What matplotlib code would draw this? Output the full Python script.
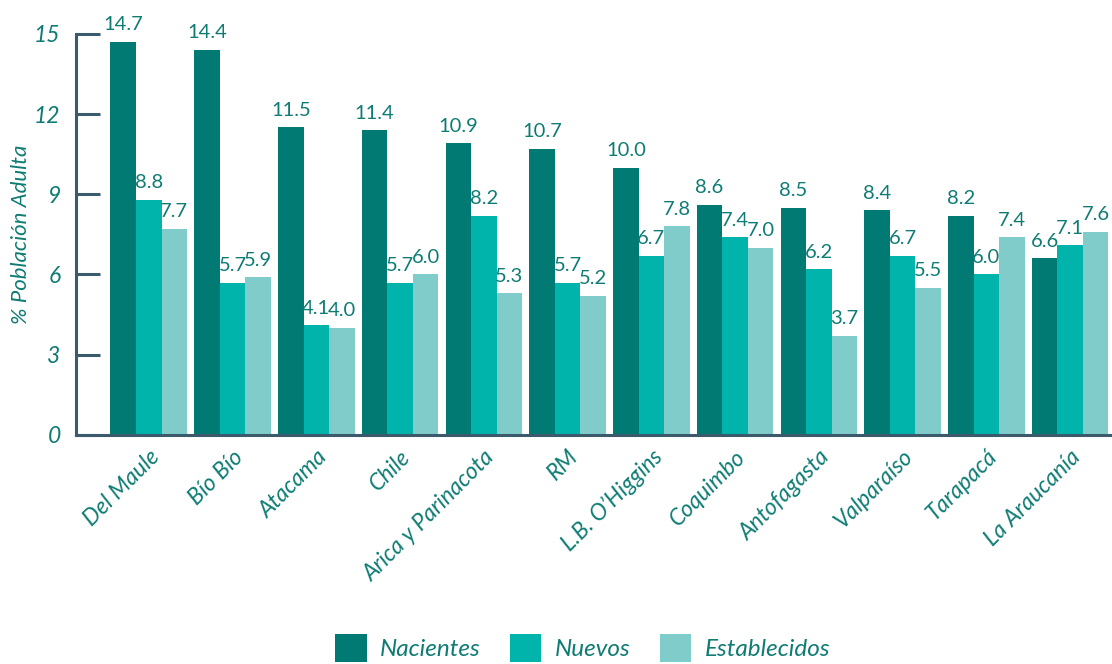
import numpy as np
import matplotlib.pyplot as plt

plt.rcParams['font.family'] = ['Lato', 'DejaVu Sans']

regiones = ['Del Maule', 'Bío Bío', 'Atacama', 'Chile', 'Arica y Parinacota', 'RM',
            'L.B. O’Higgins', 'Coquimbo', 'Antofagasta', 'Valparaíso', 'Tarapacá',
            'La Araucanía']
nacientes = [14.7, 14.4, 11.5, 11.4, 10.9, 10.7, 10.0, 8.6, 8.5, 8.4, 8.2, 6.6]
nuevos = [8.8, 5.7, 4.1, 5.7, 8.2, 5.7, 6.7, 7.4, 6.2, 6.7, 6.0, 7.1]
establecidos = [7.7, 5.9, 4.0, 6.0, 5.3, 5.2, 7.8, 7.0, 3.7, 5.5, 7.4, 7.6]
series = ['Nacientes', 'Nuevos', 'Establecidos']
colores = ['#007A72', '#00B3AB', '#7FCCCA']
texto = '#0F7C74'
eje = '#3B5A6B'

fig = plt.figure(figsize=(11.12, 6.64), dpi=100)
ax = fig.add_axes([0.0683, 0.345, 0.9317, 0.604])

x = np.arange(len(regiones))
w = 0.305
for i, (vals, nombre, c) in enumerate(zip([nacientes, nuevos, establecidos], series, colores)):
    pos = x + (i - 1) * w
    ax.bar(pos, vals, width=w, color=c, label=nombre)
    for p, v in zip(pos, vals):
        ax.text(p, v + 0.32, f'{v:.1f}', ha='center', va='bottom',
                fontsize=14.5, color=texto)

ax.set_xlim(-0.87, 11.5)
ax.set_ylim(0, 15)
ax.set_yticks([0, 3, 6, 9, 12, 15])
ax.set_yticklabels(['0', '3', '6', '9', '12', '15'], fontstyle='italic',
                   fontsize=16.5, color=texto)
ax.tick_params(axis='y', direction='in', length=17, width=2.2, color=eje, pad=11)
ax.set_xticks(x)
ax.set_xticklabels(regiones, rotation=45, ha='right', rotation_mode='anchor',
                   fontstyle='italic', fontsize=16.5, color=texto)
ax.tick_params(axis='x', length=0, pad=8)
ax.set_ylabel('% Población Adulta', fontstyle='italic', fontsize=16,
              color=texto, labelpad=2)

for s in ['top', 'right']:
    ax.spines[s].set_visible(False)
ax.spines['left'].set_color(eje)
ax.spines['left'].set_linewidth(2.2)
ax.spines['bottom'].set_color(eje)
ax.spines['bottom'].set_linewidth(2.2)

leg = fig.legend(loc='lower center', bbox_to_anchor=(0.524, -0.03), ncol=3,
                 frameon=False, fontsize=17.5, handlelength=1.3, handleheight=1.4,
                 columnspacing=1.2, handletextpad=0.55)
for t in leg.get_texts():
    t.set_color(texto)
    t.set_fontstyle('italic')

fig.savefig('out.png', dpi=100)
